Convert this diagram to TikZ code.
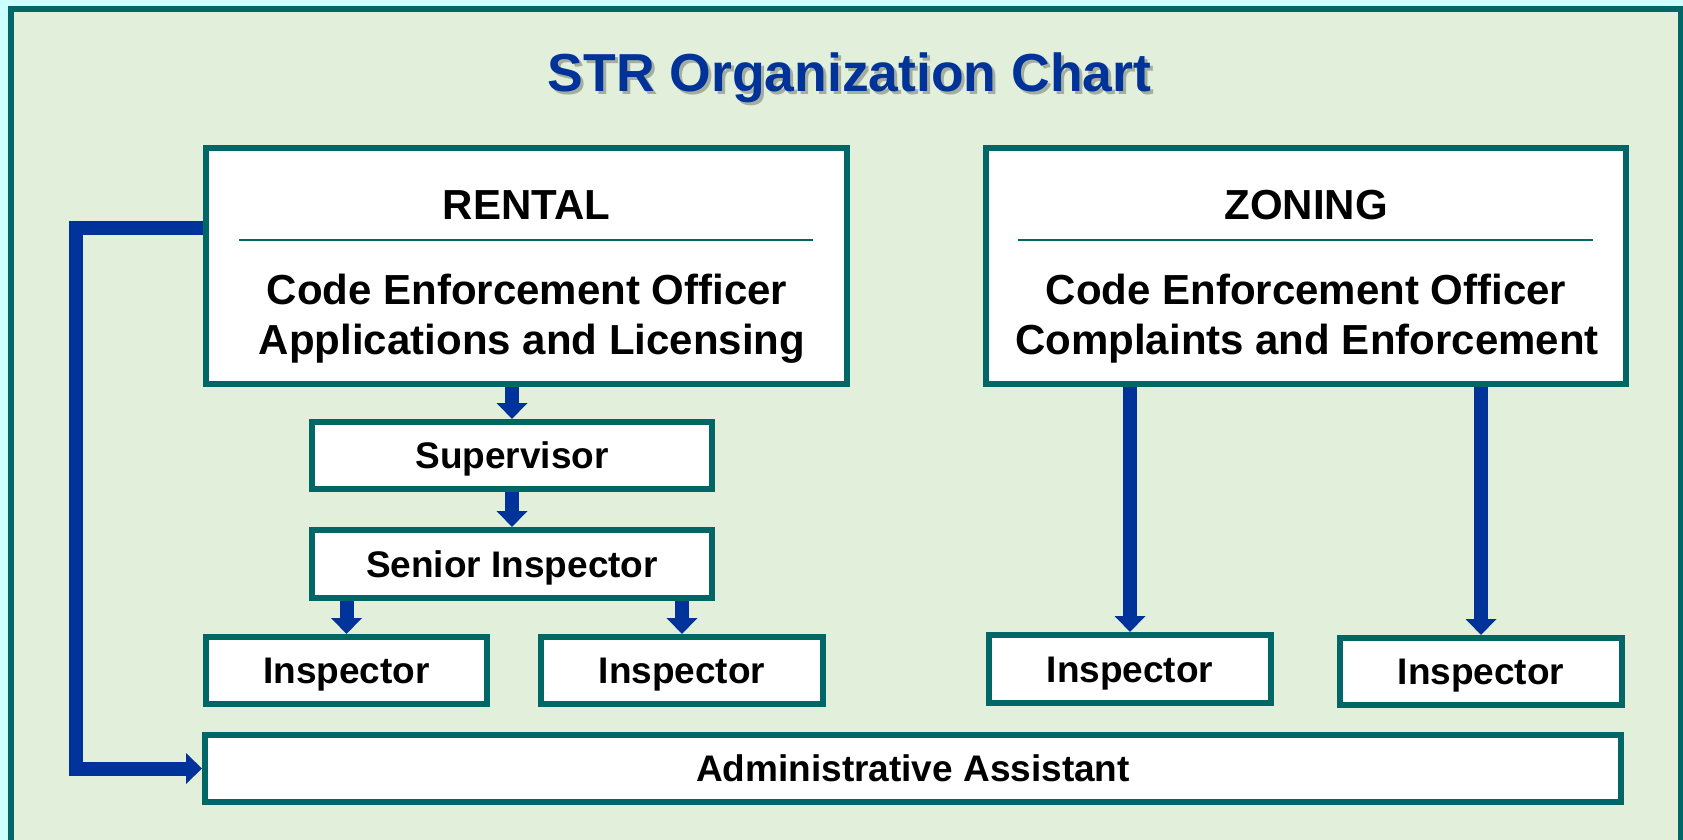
\documentclass[tikz,border=0pt]{standalone}
\usepackage{fontspec}
\setmainfont{Liberation Sans}
\usetikzlibrary{arrows.meta}
\definecolor{teal0}{HTML}{006666}
\definecolor{arrowblue}{HTML}{003399}
\definecolor{bggreen}{HTML}{E2EFDA}
\definecolor{margincyan}{HTML}{CCFFFF}
\definecolor{shadowgray}{HTML}{A3AE9F}
\pgfdeclarelayer{back}
\pgfdeclarelayer{mid}
\pgfsetlayers{back,mid,main}
\begin{document}
\begin{tikzpicture}[x=1pt,y=-1pt,
  box/.style={draw=teal0, line width=6pt, fill=white, rectangle, inner sep=0pt,
    font=\fontsize{37}{44}\selectfont\bfseries, text height=26.5pt, text depth=0pt},
  hdr/.style={anchor=base, inner sep=0pt, font=\fontsize{42}{50}\selectfont\bfseries},
  ttl/.style={anchor=base, inner sep=0pt, font=\fontsize{53.5}{60}\selectfont\bfseries},
  fat/.style={draw=arrowblue, line width=14pt, line join=miter,
    -{Triangle[width=30pt,length=16pt]}},
  sepline/.style={draw=teal0, line width=2pt}]
\useasboundingbox (0,0) rectangle (1683,840);
\begin{pgfonlayer}{back}
  \fill[margincyan] (0,0) rectangle (1683,840);
  \draw[teal0, line width=6pt, fill=bggreen] (11,9) rectangle (1681,870);
\end{pgfonlayer}

% title
\node[ttl, text=shadowgray] (titleshadow) at (852.5,95) {STR Organization Chart};
\node[ttl, text=arrowblue] (title) at (849.5,92) {STR Organization Chart};

% boxes
\node[box, minimum width=641pt, minimum height=236pt] (rental) at (526.5,266) {};
\node[box, minimum width=640pt, minimum height=236pt] (zoning) at (1306,266) {};
\node[box, minimum width=400pt, minimum height=67pt] (sup) at (512,455.5) {Supervisor};
\node[box, minimum width=400pt, minimum height=68pt] (senior) at (512,564) {Senior Inspector};
\node[box, minimum width=281pt, minimum height=67pt] (insp1) at (346.5,670.5) {Inspector};
\node[box, minimum width=282pt, minimum height=67pt] (insp2) at (682,670.5) {Inspector};
\node[box, minimum width=282pt, minimum height=68pt] (insp3) at (1130,669) {Inspector};
\node[box, minimum width=282pt, minimum height=67pt] (insp4) at (1481,671.5) {Inspector};
\node[box, minimum width=1416pt, minimum height=67pt] (admin) at (913,768.5) {Administrative Assistant};

% header texts
\node[hdr] (rentalT) at (526.5,219) {RENTAL};
\node[hdr] (rentalA) at (527,304) {Code Enforcement Officer};
\node[hdr] (rentalB) at (532,354) {Applications and Licensing};
\draw[sepline] (239,240) -- (813,240);
\node[hdr] (zoningT) at (1306,219) {ZONING};
\node[hdr] (zoningA) at (1306,304) {Code Enforcement Officer};
\node[hdr] (zoningB) at (1307,354) {Complaints and Enforcement};
\draw[sepline] (1018,240) -- (1593,240);

% connectors
\begin{pgfonlayer}{mid}
  \draw[fat] (rental.south -| sup.north) -- (sup.north);
  \draw[fat] (sup.south) -- (senior.north);
  \draw[fat] (senior.south -| insp1.north) -- (insp1.north);
  \draw[fat] (senior.south -| insp2.north) -- (insp2.north);
  \draw[fat] (zoning.south -| insp3.north) -- (insp3.north);
  \draw[fat] (zoning.south -| insp4.north) -- (insp4.north);
  \draw[fat] ([yshift=38pt]rental.west) -- ++(-127,0) |- (admin.west);
\end{pgfonlayer}
\end{tikzpicture}
\end{document}
